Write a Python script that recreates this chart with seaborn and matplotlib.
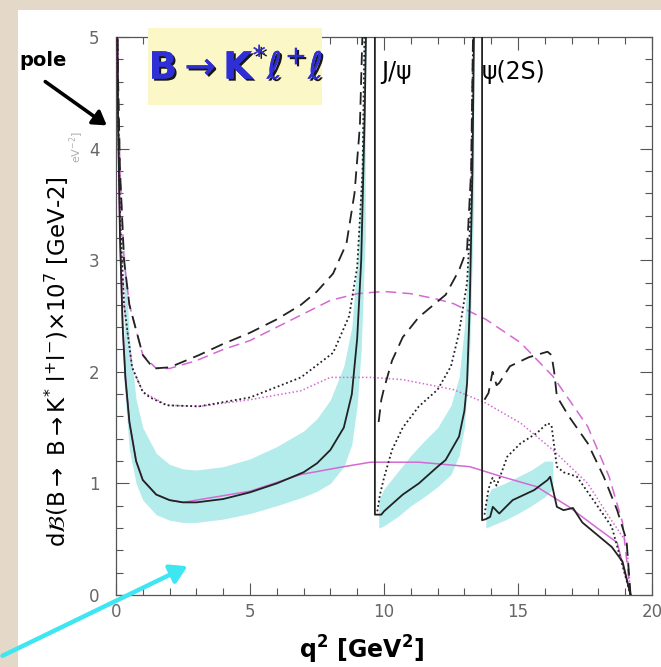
import numpy as np
import pandas as pd
import matplotlib
matplotlib.use("Agg")
import matplotlib.pyplot as plt
import matplotlib.patches as mpatches
import matplotlib.patheffects as pe
from matplotlib.ticker import MultipleLocator
import seaborn as sns

# ---------------- data ----------------
# SM prediction, solid black (three pieces separated by the charmonium poles)
sm_q_a = [0.03, 0.08, 0.15, 0.25, 0.35, 0.5, 0.75, 1.0, 1.5, 2.0, 2.5, 3.0, 4.0, 5.0, 6.0, 7.0, 7.5, 8.0, 8.5, 8.8, 9.0, 9.15, 9.28, 9.36]
sm_y_a = [5.5, 4.2, 3.2, 2.4, 1.95, 1.55, 1.2, 1.03, 0.9, 0.85, 0.83, 0.83, 0.86, 0.92, 1.0, 1.1, 1.18, 1.3, 1.5, 1.8, 2.3, 3.0, 4.3, 5.5]
sm_q_b = [9.66, 9.66, 9.75, 9.9, 10.0, 10.7, 11.3, 12.0, 12.3, 12.8, 13.0, 13.1, 13.2, 13.3, 13.38]
sm_y_b = [5.5, 0.72, 0.72, 0.72, 0.75, 0.9, 1.0, 1.15, 1.21, 1.42, 1.65, 1.9, 2.6, 3.8, 5.5]
sm_q_c = [13.66, 13.66, 13.8, 13.96, 14.06, 14.3, 14.8, 15.6, 16.1, 16.2, 16.45, 16.7, 17.05, 17.4, 17.9, 18.5, 18.9, 19.2]
sm_y_c = [5.5, 0.67, 0.68, 0.7, 0.79, 0.73, 0.85, 0.94, 1.03, 1.06, 0.79, 0.76, 0.78, 0.65, 0.55, 0.43, 0.3, 0.0]

# dashed black
da_q_a = [0.03, 0.08, 0.15, 0.3, 0.5, 1.0, 1.4, 2.0, 3.1, 4.0, 5.0, 6.0, 6.9, 7.5, 8.1, 8.6, 8.9, 9.1, 9.25]
da_y_a = [5.5, 4.6, 3.8, 3.0, 2.6, 2.15, 2.03, 2.04, 2.15, 2.25, 2.35, 2.47, 2.6, 2.72, 2.88, 3.15, 3.6, 4.2, 5.5]
da_q_b = [9.8, 9.9, 10.0, 10.3, 10.7, 11.3, 12.3, 12.8, 13.1, 13.25, 13.35]
da_y_b = [1.55, 1.75, 1.85, 2.1, 2.31, 2.49, 2.69, 2.91, 3.1, 3.8, 5.5]
da_q_c = [13.75, 13.9, 14.05, 14.2, 14.3, 14.7, 15.4, 16.1, 16.25, 16.35, 16.45, 16.9, 17.6, 18.2, 18.7, 19.05, 19.2]
da_y_c = [1.75, 1.81, 2.0, 1.88, 1.9, 2.05, 2.13, 2.18, 2.15, 2.0, 1.78, 1.6, 1.36, 1.06, 0.76, 0.49, 0.0]

# dotted black
do_q_a = [0.03, 0.08, 0.15, 0.3, 0.6, 1.0, 1.27, 1.9, 3.1, 5.0, 6.9, 8.1, 8.7, 9.0, 9.2, 9.3]
do_y_a = [5.5, 4.3, 3.4, 2.6, 2.04, 1.82, 1.77, 1.7, 1.69, 1.77, 1.95, 2.17, 2.5, 2.94, 3.8, 5.5]
do_q_b = [9.75, 9.85, 10.0, 10.3, 10.7, 11.3, 12.0, 12.5, 12.8, 13.1, 13.25, 13.35]
do_y_b = [0.75, 0.9, 1.05, 1.3, 1.5, 1.69, 1.84, 2.05, 2.35, 2.8, 3.5, 5.5]
do_q_c = [13.75, 13.9, 14.05, 14.2, 14.3, 14.6, 15.1, 15.7, 16.1, 16.25, 16.45, 16.7, 17.2, 17.9, 18.5, 19.2]
do_y_c = [0.72, 0.95, 1.05, 0.98, 1.04, 1.24, 1.36, 1.45, 1.54, 1.52, 1.15, 1.1, 1.06, 0.82, 0.61, 0.0]

# non-resonant curves, magenta
md_q = [0.03, 0.08, 0.15, 0.3, 0.5, 1.0, 1.5, 2.0, 3.0, 4.0, 5.0, 6.0, 7.0, 8.0, 9.0, 10.0, 11.0, 12.0, 12.6, 13.8, 15.1, 16.3, 17.6, 18.4, 18.9, 19.2]
md_y = [5.5, 4.6, 3.8, 3.0, 2.6, 2.15, 2.03, 2.03, 2.1, 2.2, 2.28, 2.4, 2.52, 2.64, 2.7, 2.72, 2.7, 2.65, 2.61, 2.47, 2.26, 1.96, 1.51, 1.06, 0.65, 0.0]
mo_q = [0.03, 0.08, 0.15, 0.3, 0.6, 1.0, 1.9, 3.1, 5.0, 6.9, 7.9, 8.0, 9.5, 10.7, 12.6, 13.8, 15.1, 16.3, 17.6, 18.4, 19.05, 19.2]
mo_y = [5.5, 4.3, 3.4, 2.6, 2.04, 1.82, 1.7, 1.69, 1.75, 1.83, 1.94, 1.95, 1.95, 1.93, 1.84, 1.72, 1.54, 1.3, 1.0, 0.7, 0.47, 0.0]
ms_q = [0.03, 0.08, 0.15, 0.25, 0.35, 0.5, 0.75, 1.0, 1.5, 2.0, 2.5, 5.0, 6.9, 8.5, 9.5, 11.3, 13.2, 14.4, 15.7, 16.9, 17.9, 18.7, 19.2]
ms_y = [5.5, 4.2, 3.2, 2.4, 1.95, 1.55, 1.2, 1.03, 0.9, 0.85, 0.83, 0.93, 1.08, 1.15, 1.19, 1.19, 1.15, 1.06, 0.97, 0.79, 0.61, 0.47, 0.0]

# uncertainty band (cyan) around the SM curve
band_q_a = [0.3, 0.5, 0.75, 1.0, 1.5, 2.0, 2.5, 3.0, 4.0, 5.0, 6.0, 7.0, 7.5, 8.0, 8.5, 8.8, 9.0, 9.15, 9.3]
band_lo_a = [1.9, 1.3, 1.0, 0.85, 0.72, 0.67, 0.65, 0.65, 0.68, 0.73, 0.8, 0.88, 0.93, 1.0, 1.15, 1.35, 1.7, 2.2, 3.2]
band_hi_a = [3.2, 2.3, 1.75, 1.5, 1.27, 1.17, 1.13, 1.12, 1.15, 1.22, 1.33, 1.47, 1.58, 1.75, 2.05, 2.4, 3.0, 3.8, 5.5]
band_q_b = [9.8, 10.0, 10.5, 11.0, 11.5, 12.0, 12.5, 12.8, 13.0, 13.2, 13.35]
band_lo_b = [0.6, 0.62, 0.7, 0.8, 0.88, 0.97, 1.08, 1.25, 1.5, 2.2, 3.5]
band_hi_b = [0.85, 0.95, 1.1, 1.25, 1.38, 1.5, 1.7, 1.95, 2.4, 3.3, 5.0]
band_q_c = [13.8, 14.0, 14.5, 15.0, 15.5, 16.0, 16.3]
band_lo_c = [0.6, 0.62, 0.67, 0.73, 0.8, 0.88, 0.95]
band_hi_c = [0.85, 0.95, 1.0, 1.06, 1.12, 1.2, 1.2]

x_ticks = [0, 5, 10, 15, 20]
y_ticks = [0, 1, 2, 3, 4, 5]


def frame(name, pieces):
    rows = []
    for i, (q, y) in enumerate(pieces):
        for j, (a, b) in enumerate(zip(q, y)):
            rows.append((name, i, j, a, b))
    return pd.DataFrame(rows, columns=["curve", "seg", "order", "q2", "val"])


df = pd.concat([
    frame("sm", [(sm_q_a, sm_y_a), (sm_q_b, sm_y_b), (sm_q_c, sm_y_c)]),
    frame("dash", [(da_q_a, da_y_a), (da_q_b, da_y_b), (da_q_c, da_y_c)]),
    frame("dot", [(do_q_a, do_y_a), (do_q_b, do_y_b), (do_q_c, do_y_c)]),
    frame("m_dash", [(md_q, md_y)]),
    frame("m_dot", [(mo_q, mo_y)]),
    frame("m_solid", [(ms_q, ms_y)]),
], ignore_index=True)

# ---------------- figure ----------------
sns.set_style("ticks")
plt.rcParams["font.family"] = ["DejaVu Sans"]

W, H = 661, 667
fig = plt.figure(figsize=(W / 100, H / 100), dpi=100)
fig.patch.set_facecolor("#e4d8c8")

def fx(px):
    return px / W

def fy(py):
    return 1 - py / H

# white paper panel
fig.add_artist(mpatches.Rectangle((fx(18), fy(667)), fx(661) - fx(18), fy(10) - fy(667),
                                  transform=fig.transFigure, facecolor="white", edgecolor="none", zorder=0))

ax = fig.add_axes([fx(116), fy(595), fx(652) - fx(116), fy(37) - fy(595)])
ax.set_facecolor("white")

for q, lo, hi in [(band_q_a, band_lo_a, band_hi_a), (band_q_b, band_lo_b, band_hi_b), (band_q_c, band_lo_c, band_hi_c)]:
    ax.fill_between(q, lo, hi, color="#b4ecec", linewidth=0, zorder=1)

mag = "#d36ad3"
styles = {
    "m_dash": dict(color=mag, linewidth=1.1, linestyle=(0, (7, 4))),
    "m_dot": dict(color=mag, linewidth=1.1, linestyle=(0, (1, 1.5))),
    "m_solid": dict(color=mag, linewidth=1.1, linestyle="-"),
    "dash": dict(color="#222222", linewidth=1.3, linestyle=(0, (7, 4))),
    "dot": dict(color="#222222", linewidth=1.3, linestyle=(0, (1, 1.5))),
    "sm": dict(color="#222222", linewidth=1.3, linestyle="-"),
}
for name, kw in styles.items():
    sub = df[df["curve"] == name]
    sns.lineplot(data=sub, x="q2", y="val", units="seg", estimator=None, sort=False,
                 ax=ax, legend=False, zorder=3, **kw)

ax.set_xlim(0, 20)
ax.set_ylim(0, 5)
ax.set_xticks(x_ticks)
ax.set_yticks(y_ticks)
ax.xaxis.set_minor_locator(MultipleLocator(1))
ax.yaxis.set_minor_locator(MultipleLocator(0.2))
ax.tick_params(which="both", direction="in", top=True, right=True, color="#555555", width=0.8)
ax.tick_params(which="major", length=9)
ax.tick_params(which="minor", length=5)
ax.tick_params(axis="y", which="major", pad=12, labelsize=12, labelcolor="#666666")
ax.tick_params(axis="x", which="major", pad=6, labelsize=12, labelcolor="#666666")
for s in ax.spines.values():
    s.set_color("#555555")
    s.set_linewidth(0.9)
ax.set_xlabel("")
ax.set_ylabel("")

# labels
fig.text(fx(362), fy(650), r"q$^{\mathbf{2}}$ [GeV$^{\mathbf{2}}$]", ha="center", va="center",
         fontsize=17, fontweight="bold", color="black")
fig.text(fx(57), fy(362), r"d$\mathcal{B}$(B$\rightarrow$ B$\rightarrow$K$^{*}$ l$^{+}$l$^{-}$)$\times$10$^{7}$ [GeV-2]",
         rotation=90, ha="center", va="center", fontsize=16.5, color="black")
fig.text(fx(77), fy(147), r"eV$^{-2}$]", rotation=90, ha="center", va="center", fontsize=8, color="#b0b0b0")

fig.text(fx(381), fy(72), "J/ψ", ha="left", va="center", fontsize=17, color="black")
fig.text(fx(482), fy(72), "ψ(2S)", ha="left", va="center", fontsize=17, color="black")

# title box
fig.add_artist(mpatches.Rectangle((fx(148), fy(105)), fx(322) - fx(148), fy(28) - fy(105),
                                  transform=fig.transFigure, facecolor="#fcf7c6", edgecolor="none", zorder=5))
t = fig.text(fx(236), fy(67), r"B$\rightarrow$K$^{*}$$\ell^{+}\ell$", ha="center", va="center",
             fontsize=27, fontweight="bold", color="#2f2fd6", zorder=6)
t.set_path_effects([pe.withSimplePatchShadow(offset=(1.5, -1.5), shadow_rgbFace="black", alpha=0.9), pe.Normal()])

# pole annotation
fig.text(fx(43), fy(60), "pole", ha="center", va="center", fontsize=14, fontweight="bold", color="black")
fig.add_artist(mpatches.FancyArrowPatch((fx(43), fy(80)), (fx(109), fy(127)), transform=fig.transFigure,
                                        arrowstyle="-|>,head_length=8,head_width=5", color="black",
                                        linewidth=2.6, zorder=7))
# cyan arrow
fig.add_artist(mpatches.FancyArrowPatch((fx(0), fy(657)), (fx(190), fy(565)), transform=fig.transFigure,
                                        arrowstyle="-|>,head_length=10,head_width=6", color="#3ee6f2",
                                        linewidth=3.2, zorder=7))

fig.savefig("out.png", dpi=100, facecolor=fig.get_facecolor())
